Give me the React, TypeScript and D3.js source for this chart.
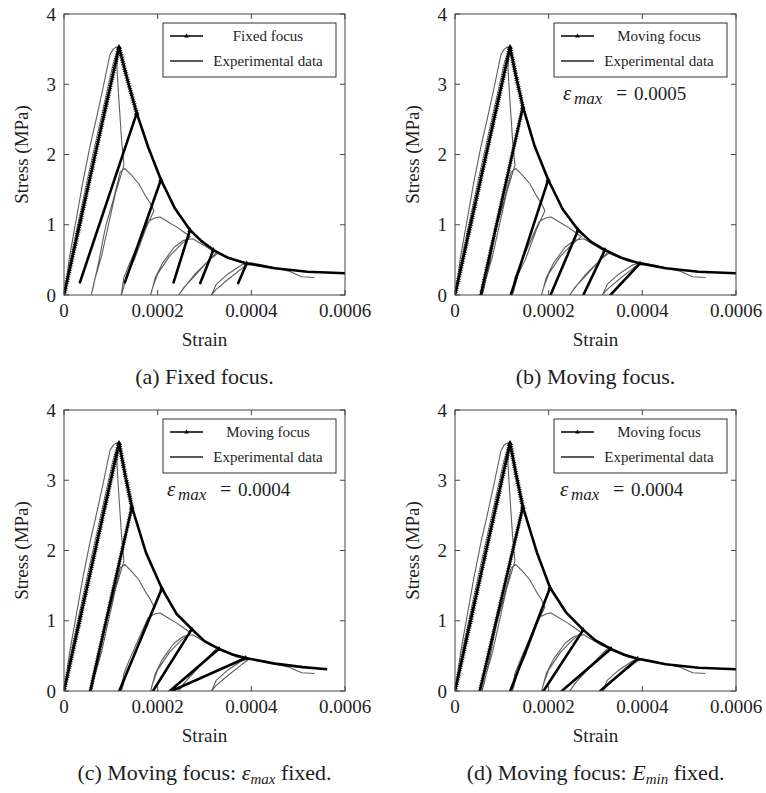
import React from "react";
import * as d3 from "d3";

// strain values in units of 1e-4, stress in MPa
const X_TICKS = [0, 0.0002, 0.0004, 0.0006];
const X_TICK_LABELS = ["0", "0.0002", "0.0004", "0.0006"];
const Y_TICKS = [0, 1, 2, 3, 4];

const expMain: [number, number][] = [
  [0, 0], [0.06, 0.25], [0.12, 0.55], [0.2, 0.85], [0.27, 1.11], [0.4, 1.6], [0.55, 2.1], [0.7, 2.54],
  [0.85, 3.0], [0.98, 3.42], [1.05, 3.5], [1.12, 3.53], [1.16, 3.52],
  [1.13, 3.25], [1.16, 2.9], [1.2, 2.5], [1.23, 2.2], [1.28, 1.85],
  [1.1, 1.45], [0.95, 1.0], [0.8, 0.55], [0.65, 0.2], [0.58, 0.0],
  [0.62, 0.1], [0.75, 0.5], [0.85, 0.85], [0.9, 1.0], [1.05, 1.35], [1.2, 1.75], [1.3, 1.8],
  [1.45, 1.7], [1.6, 1.58], [1.75, 1.4], [1.84, 1.31], [1.92, 1.2],
  [1.75, 0.95], [1.5, 0.5], [1.35, 0.3], [1.25, 0.05], [1.22, 0.0],
  [1.28, 0.25], [1.4, 0.45], [1.6, 0.75], [1.8, 1.05], [1.95, 1.1], [2.05, 1.11],
  [2.2, 1.05], [2.4, 0.97], [2.55, 0.9], [2.7, 0.83],
  [2.5, 0.72], [2.25, 0.55], [2.0, 0.3], [1.88, 0.08], [1.85, 0.0],
  [1.95, 0.25], [2.1, 0.45], [2.35, 0.68], [2.55, 0.78], [2.75, 0.8],
  [2.9, 0.74], [3.1, 0.66], [3.3, 0.6],
  [3.1, 0.5], [2.8, 0.28], [2.55, 0.1], [2.45, 0.0],
  [2.58, 0.12], [2.8, 0.3], [3.1, 0.5], [3.25, 0.6], [3.45, 0.55],
  [3.7, 0.48], [3.95, 0.45],
  [3.8, 0.38], [3.5, 0.22], [3.25, 0.08], [3.15, 0.0],
  [3.25, 0.15], [3.5, 0.3], [3.8, 0.43], [4.0, 0.46],
  [4.3, 0.42], [4.6, 0.37], [4.8, 0.34], [5.0, 0.28], [5.08, 0.26], [5.35, 0.25],
];
const expInner: [number, number][] = [
  [0, 0], [0.2, 0.7], [0.5, 1.65], [0.8, 2.55], [1.05, 3.3], [1.16, 3.52],
];

const peak: [number, number] = [1.175, 3.53];

// softening envelopes (after the peak)
const envA: [number, number][] = [
  [1.36, 3.05], [1.553, 2.59], [1.8, 2.1], [2.07, 1.64], [2.37, 1.23], [2.69, 0.925], [2.93, 0.77],
  [3.19, 0.64], [3.5, 0.53], [3.9, 0.45], [4.5, 0.38], [5.2, 0.33], [6.0, 0.31],
];
const envB: [number, number][] = [
  [1.3, 3.12], [1.45, 2.68], [1.7, 2.12], [1.99, 1.64], [2.3, 1.22], [2.63, 0.925], [2.9, 0.76],
  [3.2, 0.64], [3.55, 0.53], [3.95, 0.45], [4.5, 0.38], [5.2, 0.33], [6.0, 0.31],
];
const envC: [number, number][] = [
  [1.3, 3.1], [1.45, 2.62], [1.75, 1.97], [2.09, 1.46], [2.4, 1.1], [2.73, 0.88], [3.0, 0.71],
  [3.31, 0.6], [3.6, 0.52], [3.88, 0.47], [4.5, 0.39], [5.1, 0.34], [5.62, 0.31],
];
const envD: [number, number][] = [
  [1.3, 3.1], [1.45, 2.62], [1.75, 1.97], [2.03, 1.47], [2.37, 1.12], [2.74, 0.87], [3.0, 0.72],
  [3.33, 0.6], [3.6, 0.52], [3.9, 0.46], [4.5, 0.38], [5.2, 0.33], [6.0, 0.31],
];

// unloading lines: [from (on envelope), to]
const cyclesA: [[number, number], [number, number]][] = [
  [[1.553, 2.59], [0.34, 0.18]], [[2.07, 1.64], [1.3, 0.18]], [[2.69, 0.925], [2.34, 0.18]],
  [[3.19, 0.64], [2.91, 0.17]], [[3.9, 0.45], [3.72, 0.17]],
];
const cyclesB: [[number, number], [number, number]][] = [
  [[1.45, 2.68], [0.55, 0]], [[1.99, 1.64], [1.19, 0]], [[2.63, 0.925], [2.04, 0]],
  [[3.2, 0.64], [2.74, 0]], [[3.95, 0.45], [3.32, 0]],
];
const cyclesC: [[number, number], [number, number]][] = [
  [[1.45, 2.62], [0.56, 0]], [[2.09, 1.46], [1.18, 0]], [[2.73, 0.88], [1.9, 0]],
  [[3.31, 0.6], [2.26, 0]], [[3.88, 0.47], [2.3, 0]],
];
const cyclesD: [[number, number], [number, number]][] = [
  [[1.45, 2.62], [0.53, 0]], [[2.03, 1.47], [1.18, 0]], [[2.74, 0.87], [1.89, 0]],
  [[3.33, 0.6], [2.28, 0]], [[3.9, 0.46], [3.1, 0]],
];

const PLOT_W = 281;
const PLOT_H = 281;
const FONT = "Liberation Serif";
const TXT = "#1e1e1e";

type Panel = {
  left: number;
  top: number;
  legend: string;
  env: [number, number][];
  cycles: [[number, number], [number, number]][];
  hatchReload: boolean;
  annot: string | null;
  annotDx: number;
  caption: React.ReactNode;
};

function buildPath(env: [number, number][], cycles: [[number, number], [number, number]][]) {
  const pts: [number, number][] = [[0, 0], peak];
  const starts = cycles.map((c) => c[0][0]);
  env.forEach((p) => {
    cycles.forEach((c, i) => {
      const prevX = pts[pts.length - 1][0];
      if (starts[i] <= p[0] && starts[i] > prevX) {
        pts.push(c[0], c[1], c[0]);
      }
    });
    if (!cycles.some((c) => c[0][0] === p[0])) pts.push(p);
  });
  return pts;
}

function PanelView({ p }: { p: Panel }) {
  const x = d3.scaleLinear().domain([0, 0.0006]).range([p.left, p.left + PLOT_W]);
  const y = d3.scaleLinear().domain([0, 4]).range([p.top + PLOT_H, p.top]);
  const line = d3
    .line<[number, number]>()
    .x((d) => x(d[0] * 1e-4))
    .y((d) => y(d[1]));
  const model = buildPath(p.env, p.cycles);
  const first = p.cycles[0];
  const hatchEnv: [number, number][] = [[0, 0], peak, ...p.env.filter((d) => d[0] < first[0][0]), first[0]];
  const hatchRe: [number, number][] = [first[1], first[0]];
  const corners: [number, number][] = [peak, ...p.cycles.map((c) => c[0])];
  const right = p.left + PLOT_W;
  const bottom = p.top + PLOT_H;
  const cx = p.left + PLOT_W / 2;
  const bx = p.left + 99;
  const by = p.top + 9;
  const bw = PLOT_W - 108;
  const clipId = `clip-${p.left}-${p.top}`;
  const tri = (px: number, py: number, s: number) =>
    `M${px},${py - s} L${px + s * 0.9},${py + s * 0.6} L${px - s * 0.9},${py + s * 0.6} Z`;
  return (
    <g>
      <defs>
        <clipPath id={clipId}>
          <rect x={p.left} y={p.top} width={PLOT_W} height={PLOT_H} />
        </clipPath>
      </defs>
      <g clipPath={`url(#${clipId})`}>
        <path d={line(expMain) || ""} fill="none" stroke="#5e5e5e" strokeWidth={1.1} strokeLinejoin="round" />
        <path d={line(expInner) || ""} fill="none" stroke="#808080" strokeWidth={1} />
        <path d={line(model) || ""} fill="none" stroke="#000" strokeWidth={2.6} strokeLinejoin="round" />
        <path d={line(hatchEnv) || ""} fill="none" stroke="#000" strokeWidth={4.6} strokeDasharray="0.8 1.5" />
        {p.hatchReload && (
          <path d={line(hatchRe) || ""} fill="none" stroke="#000" strokeWidth={4.2} strokeDasharray="0.8 1.7" opacity={0.8} />
        )}
        {corners.map((c, i) => (
          <path key={i} d={tri(x(c[0] * 1e-4), y(c[1]), 3)} fill="#000" />
        ))}
      </g>
      {/* frame */}
      <rect x={p.left} y={p.top} width={PLOT_W} height={PLOT_H} fill="none" stroke="#444" strokeWidth={1} />
      {X_TICKS.map((t, i) => (
        <g key={"xt" + i}>
          <line x1={x(t)} x2={x(t)} y1={bottom} y2={bottom - 5} stroke="#444" />
          <line x1={x(t)} x2={x(t)} y1={p.top} y2={p.top + 5} stroke="#444" />
          <text x={x(t)} y={bottom + 22} textAnchor="middle" fontSize={19} fontFamily={FONT} fill={TXT}>
            {X_TICK_LABELS[i]}
          </text>
        </g>
      ))}
      {Y_TICKS.map((t) => (
        <g key={"yt" + t}>
          <line x1={p.left} x2={p.left + 5} y1={y(t)} y2={y(t)} stroke="#444" />
          <line x1={right} x2={right - 5} y1={y(t)} y2={y(t)} stroke="#444" />
          <text x={p.left - 8} y={y(t) + 6.5} textAnchor="end" fontSize={19} fontFamily={FONT} fill={TXT}>
            {t}
          </text>
        </g>
      ))}
      <text x={cx} y={bottom + 51} textAnchor="middle" fontSize={19} fontFamily={FONT} fill={TXT}>
        Strain
      </text>
      <text
        transform={`translate(${p.left - 36},${p.top + PLOT_H / 2}) rotate(-90)`}
        textAnchor="middle"
        fontSize={19}
        fontFamily={FONT}
        fill={TXT}
      >
        Stress (MPa)
      </text>
      {/* legend */}
      <rect x={bx} y={by} width={bw} height={54} fill="#fff" stroke="#333" strokeWidth={1} />
      <line x1={bx + 7} x2={bx + 40} y1={by + 13} y2={by + 13} stroke="#000" strokeWidth={1.4} />
      <path d={tri(bx + 23.5, by + 13, 2.6)} fill="#000" />
      <text x={bx + 105} y={by + 18} textAnchor="middle" fontSize={15} fontFamily={FONT} fill={TXT}>
        {p.legend}
      </text>
      <line x1={bx + 7} x2={bx + 40} y1={by + 38} y2={by + 38} stroke="#222" strokeWidth={1.4} />
      <text x={bx + 105} y={by + 43} textAnchor="middle" fontSize={15} fontFamily={FONT} fill={TXT}>
        Experimental data
      </text>
      {p.annot && (
        <g fontFamily={FONT} fill={TXT}>
          <text x={p.left + p.annotDx} y={p.top + 86} fontSize={21} fontStyle="italic">
            ε
          </text>
          <text x={p.left + p.annotDx + 11} y={p.top + 90} fontSize={17} fontStyle="italic">
            max
          </text>
          <text x={p.left + p.annotDx + 53} y={p.top + 86} fontSize={20}>
            =
          </text>
          <text x={p.left + p.annotDx + 71} y={p.top + 86} fontSize={19}>
            {p.annot}
          </text>
        </g>
      )}
      <text x={cx} y={bottom + 89} textAnchor="middle" fontSize={22} fontFamily={FONT} fill={TXT}>
        {p.caption}
      </text>
    </g>
  );
}

const panels: Panel[] = [
  {
    left: 64, top: 14, legend: "Fixed focus", env: envA, cycles: cyclesA, hatchReload: false,
    annot: null, annotDx: 0, caption: "(a) Fixed focus.",
  },
  {
    left: 455, top: 14, legend: "Moving focus", env: envB, cycles: cyclesB, hatchReload: true,
    annot: "0.0005", annotDx: 108, caption: "(b) Moving focus.",
  },
  {
    left: 64, top: 410, legend: "Moving focus", env: envC, cycles: cyclesC, hatchReload: true,
    annot: "0.0004", annotDx: 103,
    caption: (
      <>
        (c) Moving focus: <tspan fontStyle="italic">ε</tspan>
        <tspan fontStyle="italic" fontSize={15} dy={4}>max</tspan>
        <tspan dy={-4}> fixed.</tspan>
      </>
    ),
  },
  {
    left: 455, top: 410, legend: "Moving focus", env: envD, cycles: cyclesD, hatchReload: true,
    annot: "0.0004", annotDx: 105,
    caption: (
      <>
        (d) Moving focus: <tspan fontStyle="italic">E</tspan>
        <tspan fontStyle="italic" fontSize={15} dy={4}>min</tspan>
        <tspan dy={-4}> fixed.</tspan>
      </>
    ),
  },
];

export default function App() {
  return (
    <svg
      width={766}
      height={793}
      viewBox="0 0 766 793"
      style={{ position: "absolute", left: 0, top: 0, background: "#fff" }}
    >
      <rect width={766} height={793} fill="#fff" />
      {panels.map((p, i) => (
        <PanelView key={i} p={p} />
      ))}
    </svg>
  );
}
